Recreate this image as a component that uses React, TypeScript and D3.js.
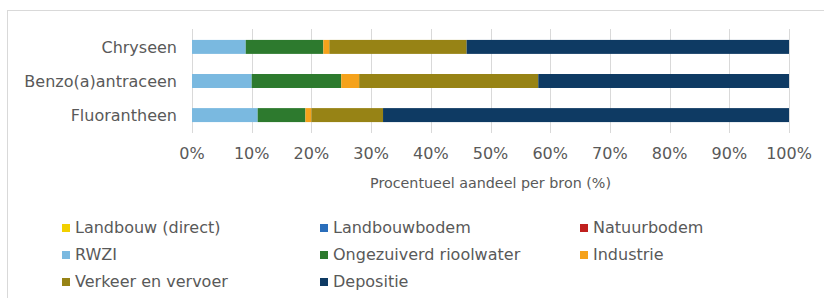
import React, { useEffect, useRef } from "react";
import * as d3 from "d3";

const categories = ["Chryseen", "Benzo(a)antraceen", "Fluorantheen"];

const sources = [
  "Landbouw (direct)",
  "Landbouwbodem",
  "Natuurbodem",
  "RWZI",
  "Ongezuiverd rioolwater",
  "Industrie",
  "Verkeer en vervoer",
  "Depositie",
];

// share per source (%) for Chryseen, Benzo(a)antraceen, Fluorantheen
const landbouwDirect = [0, 0, 0];
const landbouwbodem = [0, 0, 0];
const natuurbodem = [0, 0, 0];
const rwzi = [9, 10, 11];
const ongezuiverd = [13, 15, 8];
const industrie = [1, 3, 1];
const verkeer = [23, 30, 12];
const depositie = [54, 42, 68];

const xTicks = [0, 10, 20, 30, 40, 50, 60, 70, 80, 90, 100];

const colors = [
  "#f2d000",
  "#2a6ebb",
  "#c0201e",
  "#7ab9e0",
  "#2d7a2e",
  "#f5a21b",
  "#978315",
  "#0e3a63",
];

const App = () => {
  const svgRef = useRef<SVGSVGElement>(null);

  useEffect(() => {
    const width = 824;
    const height = 298;
    const textColor = "#595959";
    const font = "DejaVu Sans";

    const series = [
      landbouwDirect,
      landbouwbodem,
      natuurbodem,
      rwzi,
      ongezuiverd,
      industrie,
      verkeer,
      depositie,
    ];
    const rows = categories.map((c, i) => {
      const row: any = { cat: c };
      sources.forEach((s, j) => (row[s] = series[j][i]));
      return row;
    });
    const stacked = d3.stack().keys(sources)(rows);

    const x = d3.scaleLinear([0, 100], [192, 789]);
    const y = d3
      .scaleBand(categories, [29, 133])
      .paddingInner(0.59)
      .paddingOuter(0.32);

    const svg = d3.select(svgRef.current);
    svg.selectAll("*").remove();
    svg.attr("width", width).attr("height", height);

    svg
      .append("rect")
      .attr("x", 7.5)
      .attr("y", 10.5)
      .attr("width", 840)
      .attr("height", 320)
      .attr("fill", "white")
      .attr("stroke", "#d9d9d9");

    // grid
    svg
      .append("g")
      .selectAll("line")
      .data(xTicks)
      .join("line")
      .attr("x1", (d) => Math.round(x(d)) + 0.5)
      .attr("x2", (d) => Math.round(x(d)) + 0.5)
      .attr("y1", 29)
      .attr("y2", 133)
      .attr("stroke", "#d9d9d9");

    // bars
    svg
      .append("g")
      .selectAll("g")
      .data(stacked)
      .join("g")
      .attr("fill", (_, i) => colors[i])
      .selectAll("rect")
      .data((d) => d)
      .join("rect")
      .attr("x", (d) => x(d[0]))
      .attr("width", (d) => x(d[1]) - x(d[0]))
      .attr("y", (d: any) => y(d.data.cat)!)
      .attr("height", y.bandwidth());

    // category labels
    svg
      .append("g")
      .selectAll("text")
      .data(categories)
      .join("text")
      .attr("x", 177)
      .attr("y", (d) => y(d)! + y.bandwidth() / 2)
      .attr("dy", "0.38em")
      .attr("text-anchor", "end")
      .attr("font-family", font)
      .attr("font-size", 16)
      .attr("fill", textColor)
      .text((d) => d);

    // x tick labels
    svg
      .append("g")
      .selectAll("text")
      .data(xTicks)
      .join("text")
      .attr("x", (d) => x(d))
      .attr("y", 159)
      .attr("text-anchor", "middle")
      .attr("font-family", font)
      .attr("font-size", 16)
      .attr("fill", textColor)
      .text((d) => d + "%");

    svg
      .append("text")
      .attr("x", (x(0) + x(100)) / 2)
      .attr("y", 188)
      .attr("text-anchor", "middle")
      .attr("font-family", font)
      .attr("font-size", 14.3)
      .attr("fill", textColor)
      .text("Procentueel aandeel per bron (%)");

    // legend, 3 columns
    const legend = svg
      .append("g")
      .selectAll("g")
      .data(sources)
      .join("g")
      .attr(
        "transform",
        (_, i) => `translate(${[75, 333, 593][i % 3]},${228 + Math.floor(i / 3) * 27})`
      );
    legend
      .append("rect")
      .attr("x", -13)
      .attr("y", -4)
      .attr("width", 8)
      .attr("height", 8)
      .attr("fill", (_, i) => colors[i]);
    legend
      .append("text")
      .attr("y", 5)
      .attr("font-family", font)
      .attr("font-size", 16)
      .attr("fill", textColor)
      .text((d) => d);
  }, []);

  return (
    <svg
      ref={svgRef}
      style={{ position: "absolute", left: 0, top: 0, display: "block" }}
    />
  );
};

export default App;
